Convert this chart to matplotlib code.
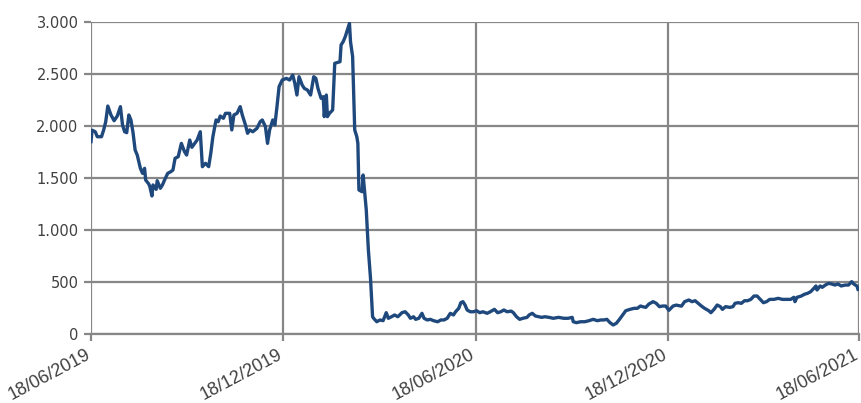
import matplotlib
matplotlib.use('Agg')
import matplotlib.pyplot as plt
import matplotlib.dates as mdates
import matplotlib.transforms as mtrans
from matplotlib.ticker import FuncFormatter
import pandas as pd

# days after 18/06/2019
days = [0, 1, 4, 6, 10, 12, 14, 16, 19, 22,
        25, 28, 30, 32, 34, 36, 38, 40, 42, 44,
        47, 49, 51, 52, 55, 56, 58, 59, 62, 63,
        66, 68, 70, 73, 76, 78, 80, 83, 86, 89,
        91, 94, 96, 101, 104, 106, 109, 112, 114, 116,
        119, 121, 123, 126, 128, 132, 134, 136, 139, 142,
        144, 147, 149, 151, 154, 158, 161, 163, 166, 168,
        170, 173, 175, 177, 179, 182, 186, 189, 192, 194,
        196, 198, 201, 203, 206, 209, 212, 214, 216, 219,
        221, 222, 224, 225, 227, 230, 232, 234, 237, 238,
        240, 242, 243, 246, 247, 249, 251, 253, 254, 255,
        258, 259, 262, 264, 266, 268, 269, 272, 275, 278,
        281, 283, 286, 289, 292, 296, 299, 302, 304, 307,
        309, 312, 315, 317, 320, 323, 326, 330, 333, 336,
        339, 342, 345, 347, 350, 352, 354, 356, 358, 361,
        364, 367, 370, 373, 377, 380, 384, 387, 390, 393,
        396, 400, 402, 405, 408, 411, 415, 417, 420, 423,
        426, 429, 432, 436, 440, 445, 450, 454, 458, 459,
        462, 466, 470, 474, 478, 482, 485, 488, 491, 494,
        497, 500, 503, 506, 509, 513, 517, 520, 523, 525,
        528, 531, 535, 538, 541, 544, 547, 550, 554, 557,
        562, 565, 569, 572, 575, 578, 581, 584, 588, 590,
        593, 596, 599, 601, 604, 608, 611, 613, 616, 619,
        622, 625, 628, 631, 634, 637, 640, 643, 646, 650,
        654, 658, 662, 666, 669, 670, 672, 676, 679, 682,
        685, 688, 690, 691, 694, 696, 699, 702, 705, 708,
        711, 714, 718, 721, 724, 726, 729, 730]

values = [1850, 1960, 1945, 1897, 1897, 1960, 2041, 2192, 2106, 2051,
          2096, 2186, 2010, 1945, 1936, 2106, 2058, 1936, 1769, 1721,
          1593, 1545, 1593, 1481, 1442, 1417, 1327, 1433, 1391, 1474,
          1401, 1433, 1481, 1545, 1561, 1577, 1689, 1705, 1833, 1753,
          1721, 1865, 1795, 1865, 1945, 1609, 1641, 1609, 1737, 1897,
          2058, 2041, 2096, 2074, 2122, 2122, 1962, 2106, 2122, 2186,
          2106, 2010, 1930, 1962, 1945, 1978, 2041, 2058, 1994, 1833,
          1962, 2058, 2010, 2186, 2378, 2442, 2458, 2442, 2490, 2410,
          2298, 2474, 2394, 2362, 2346, 2298, 2474, 2458, 2362, 2266,
          2282, 2090, 2298, 2090, 2122, 2154, 2603, 2609, 2618, 2779,
          2811, 2859, 2891, 2987, 2811, 2667, 1962, 1897, 1833, 1385,
          1368, 1529, 1192, 808, 540, 166, 151, 118, 135, 128,
          205, 151, 166, 183, 166, 205, 214, 183, 151, 166,
          141, 151, 199, 151, 135, 141, 128, 118, 135, 135,
          151, 199, 183, 214, 247, 301, 311, 279, 231, 214,
          214, 224, 205, 214, 199, 214, 237, 205, 214, 231,
          214, 220, 205, 166, 141, 151, 160, 183, 199, 173,
          166, 160, 166, 160, 151, 160, 151, 151, 160, 118,
          109, 118, 118, 128, 141, 128, 135, 135, 141, 109,
          87, 103, 141, 183, 224, 237, 247, 247, 269, 263,
          256, 288, 311, 295, 263, 269, 269, 228, 269, 278,
          268, 311, 327, 311, 320, 295, 269, 247, 224, 205,
          237, 279, 263, 237, 263, 256, 263, 295, 301, 295,
          320, 320, 333, 365, 365, 333, 301, 311, 333, 333,
          343, 333, 333, 333, 353, 311, 353, 365, 382, 391,
          407, 439, 462, 423, 462, 449, 471, 487, 481, 471,
          481, 462, 471, 471, 503, 481, 462, 430]

tick_dates = ['2019-06-18', '2019-12-18', '2020-06-18', '2020-12-18', '2021-06-18']
y_ticks = [0, 500, 1000, 1500, 2000, 2500, 3000]

start = pd.Timestamp('2019-06-18')
dates = start + pd.to_timedelta(days, unit='D')
ticks = pd.to_datetime(tick_dates)

grid_col = '#878787'
fig = plt.figure(figsize=(8.61, 4.03), dpi=100)
ax = fig.add_axes([0.1057, 0.1712, 0.892, 0.7742])

ax.plot(dates, values, color='#1F497D', lw=2.4, solid_joinstyle='round', zorder=3)

ax.set_xlim(ticks[0], ticks[-1])
ax.set_ylim(0, 3000)
ax.set_xticks(ticks)
ax.set_yticks(y_ticks)
ax.xaxis.set_major_formatter(mdates.DateFormatter('%d/%m/%Y'))
ax.yaxis.set_major_formatter(FuncFormatter(lambda v, p: f'{int(v):,}'.replace(',', '.')))

ax.grid(True, color=grid_col, lw=1.6, zorder=1)
for s in ['top', 'right', 'left']:
    ax.spines[s].set_visible(False)
ax.spines['bottom'].set_color(grid_col)
ax.spines['bottom'].set_linewidth(1.6)

ax.tick_params(axis='y', length=5, width=1.6, color=grid_col, labelsize=10.5,
               labelcolor='#404040', pad=4)
ax.tick_params(axis='x', length=5, width=1.6, color=grid_col, pad=9)
shift = mtrans.ScaledTranslation(-2 / 100, 0, fig.dpi_scale_trans)
for lab in ax.get_xticklabels():
    lab.set_rotation(28)
    lab.set_ha('right')
    lab.set_va('center')
    lab.set_rotation_mode('anchor')
    lab.set_fontsize(13)
    lab.set_family('Liberation Sans')
    lab.set_color('#404040')
    lab.set_transform(lab.get_transform() + shift)

fig.savefig('out.png', dpi=100)
